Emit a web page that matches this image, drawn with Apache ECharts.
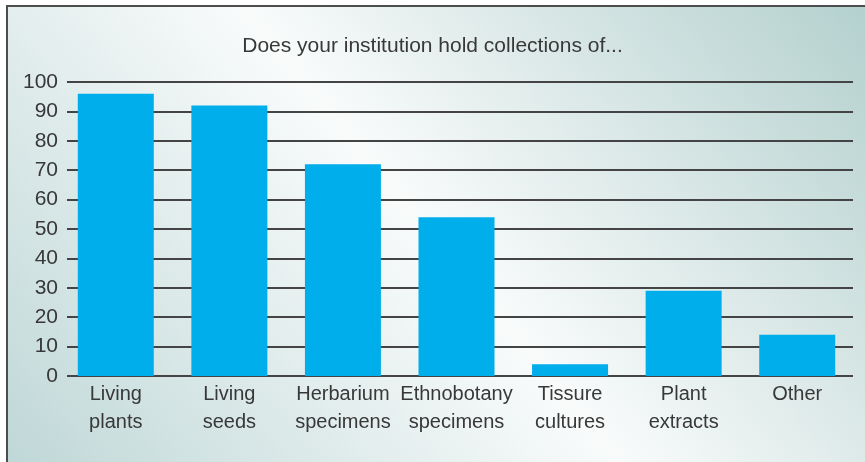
<!DOCTYPE html>
<html>
<head>
<meta charset="utf-8">
<script src="https://cdn.jsdelivr.net/npm/echarts@6/dist/echarts.min.js"></script>
<style>
  html, body { margin: 0; padding: 0; background: #ffffff; }
  #chart { width: 865px; height: 462px; }
</style>
</head>
<body>
<div id="chart"></div>
<script>
// Survey responses: share of institutions holding each kind of collection (%)
const categories = [
  'Living\nplants',
  'Living\nseeds',
  'Herbarium\nspecimens',
  'Ethnobotany\nspecimens',
  'Tissure\ncultures',
  'Plant\nextracts',
  'Other'
];
const percentages = [96, 92, 72, 54, 4, 29, 14];
const yTicks = { min: 0, max: 100, step: 10 };
const chartTitle = 'Does your institution hold collections of...';

const FONT = '"Liberation Sans", Arial, sans-serif';
const TEXT = '#383838';

const chart = echarts.init(document.getElementById('chart'), null, { renderer: 'canvas' });

chart.setOption({
  animation: false,
  backgroundColor: '#ffffff',
  graphic: [{
    type: 'rect',
    z: -10,
    silent: true,
    shape: { x: 7, y: 6, width: 900, height: 500 },
    style: {
      fill: new echarts.graphic.LinearGradient(60, 600, 860, -60, [
        { offset: 0, color: '#b9d4d3' },
        { offset: 0.5, color: '#f9fbfb' },
        { offset: 1, color: '#aecdca' }
      ], true),
      stroke: '#4d4d4d',
      lineWidth: 2
    }
  }],
  title: {
    text: chartTitle,
    left: 'center',
    top: 31,
    textStyle: { fontFamily: FONT, fontSize: 21, fontWeight: 'normal', color: TEXT }
  },
  grid: [
    // grid for the value scale and its horizontal rules
    { left: 67, right: 12, top: 82, bottom: 86 },
    // grid for the bars and category labels
    { left: 59, right: 11, top: 82, bottom: 86 }
  ],
  xAxis: [
    { gridIndex: 0, type: 'category', data: categories, show: false },
    {
      gridIndex: 1,
      type: 'category',
      data: categories,
      axisLine: { show: false },
      axisTick: { show: false },
      axisLabel: {
        margin: 4,
        fontFamily: FONT,
        fontSize: 20,
        lineHeight: 28,
        color: TEXT,
        interval: 0,
        verticalAlign: 'top'
      }
    }
  ],
  yAxis: [
    {
      gridIndex: 0,
      type: 'value',
      min: yTicks.min,
      max: yTicks.max,
      interval: yTicks.step,
      axisLine: { show: false },
      axisTick: { show: false },
      axisLabel: { margin: 9, fontFamily: FONT, fontSize: 21, color: TEXT },
      splitLine: { lineStyle: { color: '#444444', width: 2 } }
    },
    {
      gridIndex: 1,
      type: 'value',
      min: yTicks.min,
      max: yTicks.max,
      interval: yTicks.step,
      show: false,
      splitLine: { show: false }
    }
  ],
  series: [{
    type: 'bar',
    xAxisIndex: 1,
    yAxisIndex: 1,
    data: percentages,
    barWidth: 76,
    itemStyle: { color: '#00aeeb' },
    z: 3
  }]
});
</script>
</body>
</html>
